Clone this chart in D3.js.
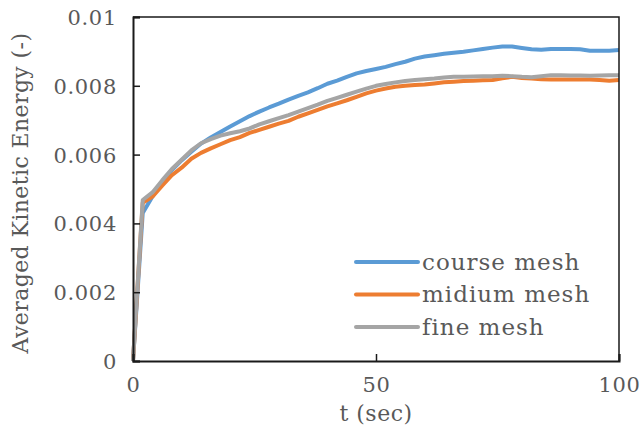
<!DOCTYPE html>
<html>
<head>
<meta charset="utf-8">
<script src="https://cdn.jsdelivr.net/npm/d3@7"></script>
<style>
  html, body { margin: 0; padding: 0; background: #fff; }
  svg text { font-family: "DejaVu Serif", "Liberation Serif", serif; fill: #595959; }
</style>
</head>
<body>
<svg id="chart" width="642" height="435"></svg>
<script>
// Sample times (sec)
const times = [0, 2, 4, 6, 8, 10, 12, 14, 16, 18, 20, 22, 24, 26, 28, 30, 32, 34, 36, 38, 40,
  42, 44, 46, 48, 50, 52, 54, 56, 58, 60, 62, 64, 66, 68, 70, 72, 74, 76, 78, 80,
  82, 84, 86, 88, 90, 92, 94, 96, 98, 100];

// Averaged kinetic energy per mesh resolution
const courseMesh = [0, 0.00430, 0.00478, 0.00520, 0.00555, 0.00583, 0.00608, 0.00632, 0.00650, 0.00666, 0.00682,
  0.00697, 0.00712, 0.00725, 0.00737, 0.00748, 0.00760, 0.00771, 0.00781, 0.00793, 0.00806,
  0.00815, 0.00826, 0.00836, 0.00843, 0.00849, 0.00855, 0.00863, 0.00870, 0.00879, 0.00885,
  0.00889, 0.00893, 0.00896, 0.00899, 0.00903, 0.00907, 0.00911, 0.00914, 0.00914, 0.00910,
  0.00906, 0.00905, 0.00907, 0.00907, 0.00907, 0.00906, 0.00902, 0.00902, 0.00902, 0.00904];

const midiumMesh = [0, 0.00460, 0.00478, 0.00510, 0.00540, 0.00562, 0.00588, 0.00605, 0.00618, 0.00630, 0.00642,
  0.00651, 0.00663, 0.00672, 0.00681, 0.00690, 0.00698, 0.00710, 0.00720, 0.00730, 0.00740,
  0.00749, 0.00758, 0.00768, 0.00778, 0.00786, 0.00792, 0.00797, 0.00800, 0.00802, 0.00804,
  0.00807, 0.00810, 0.00812, 0.00814, 0.00815, 0.00816, 0.00817, 0.00822, 0.00826, 0.00823,
  0.00821, 0.00819, 0.00818, 0.00818, 0.00818, 0.00818, 0.00818, 0.00817, 0.00815, 0.00817];

const fineMesh = [0, 0.00468, 0.00490, 0.00525, 0.00558, 0.00585, 0.00612, 0.00633, 0.00645, 0.00655, 0.00662,
  0.00668, 0.00676, 0.00688, 0.00697, 0.00706, 0.00715, 0.00725, 0.00735, 0.00745, 0.00756,
  0.00765, 0.00774, 0.00783, 0.00792, 0.00800, 0.00805, 0.00810, 0.00814, 0.00817, 0.00819,
  0.00821, 0.00824, 0.00826, 0.00826, 0.00827, 0.00828, 0.00828, 0.00829, 0.00828, 0.00826,
  0.00825, 0.00828, 0.00831, 0.00831, 0.00830, 0.00830, 0.00829, 0.00830, 0.00831, 0.00831];

const seriesNames = ["course mesh", "midium mesh", "fine mesh"];
const seriesColors = ["#5B9BD5", "#ED7D31", "#A5A5A5"];
const xTicks = [0, 50, 100];
const yTicks = [0, 0.002, 0.004, 0.006, 0.008, 0.01];

const series = [courseMesh, midiumMesh, fineMesh].map((vals, i) => ({
  name: seriesNames[i],
  color: seriesColors[i],
  points: times.map((t, j) => [t, vals[j]])
}));

const svg = d3.select("#chart");
const margin = { left: 133, top: 17, right: 23, bottom: 74 };
const W = 642 - margin.left - margin.right;
const H = 435 - margin.top - margin.bottom;

const x = d3.scaleLinear().domain([0, 100]).range([0, W]);
const y = d3.scaleLinear().domain([0, 0.01]).range([H, 0]);

const g = svg.append("g").attr("transform", `translate(${margin.left},${margin.top})`);

// Series lines
const line = d3.line().x(d => x(d[0])).y(d => y(d[1]));
g.selectAll("path.series")
  .data(series)
  .join("path")
  .attr("class", "series")
  .attr("fill", "none")
  .attr("stroke", d => d.color)
  .attr("stroke-width", 4)
  .attr("stroke-linejoin", "round")
  .attr("d", d => line(d.points));

// Plot frame (top and right)
g.append("path")
  .attr("d", `M0,0H${W}V${H}`)
  .attr("fill", "none")
  .attr("stroke", "#1a1a1a")
  .attr("stroke-width", 1.5);

// Axes with inward ticks
const yAxis = d3.axisLeft(y).tickValues(yTicks).tickSize(-7).tickPadding(16)
  .tickFormat(d => d === 0 ? "0" : d3.format("")(+d.toFixed(3)));
const xAxis = d3.axisBottom(x).tickValues(xTicks).tickSize(-7).tickPadding(16).tickFormat(d3.format("d"));

const ya = g.append("g").call(yAxis);
const xa = g.append("g").attr("transform", `translate(0,${H})`).call(xAxis);
[ya, xa].forEach(a => {
  a.select(".domain").attr("stroke", "#1a1a1a").attr("stroke-width", 2);
  a.selectAll(".tick line").attr("stroke", "#1a1a1a").attr("stroke-width", 1.5);
  a.selectAll(".tick text").attr("font-size", 21).attr("letter-spacing", "0.7px").attr("fill", "#595959")
    .attr("font-family", "'DejaVu Serif', 'Liberation Serif', serif");
});
ya.selectAll(".tick text").attr("dy", "0.36em");

// Axis titles
svg.append("text")
  .attr("x", margin.left + x(50))
  .attr("y", 421)
  .attr("text-anchor", "middle")
  .attr("font-size", 22)
  .attr("letter-spacing", "0.5px")
  .text("t (sec)");

svg.append("text")
  .attr("transform", `translate(28,${margin.top + H / 2 + 4}) rotate(-90)`)
  .attr("text-anchor", "middle")
  .attr("font-size", 22)
  .attr("letter-spacing", "0.4px")
  .text("Averaged Kinetic Energy (-)");

// Legend
const legend = svg.append("g").attr("transform", "translate(356,262)");
series.forEach((s, i) => {
  const row = legend.append("g").attr("transform", `translate(0,${i * 32.5})`);
  row.append("line").attr("x1", 0).attr("x2", 62).attr("y1", 0).attr("y2", 0)
    .attr("stroke", s.color).attr("stroke-width", 4).attr("stroke-linecap", "round");
  row.append("text").attr("x", 66).attr("y", 0).attr("dy", "0.33em")
    .attr("font-size", 23).attr("letter-spacing", "1px").text(s.name);
});
</script>
</body>
</html>
